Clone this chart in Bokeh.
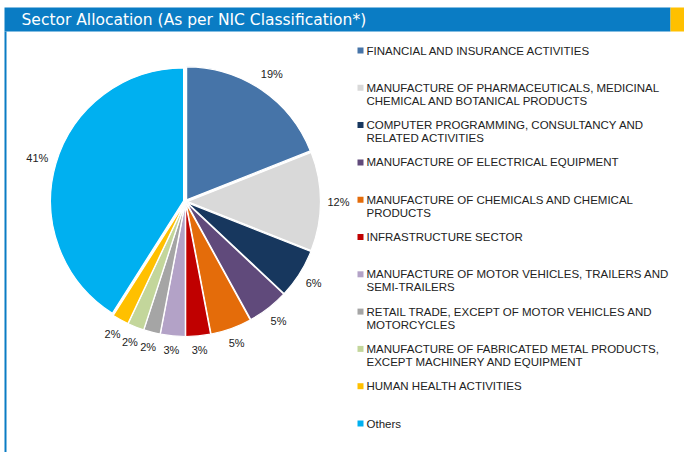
import numpy as np
from bokeh.plotting import figure
from bokeh.models import Range1d
from bokeh.core.properties import value
from bokeh.embed import file_html
from bokeh.resources import INLINE

title = "Sector Allocation (As per NIC Classification*)"
sectors = [
    "FINANCIAL AND INSURANCE ACTIVITIES",
    "MANUFACTURE OF PHARMACEUTICALS, MEDICINAL\nCHEMICAL AND BOTANICAL PRODUCTS",
    "COMPUTER PROGRAMMING, CONSULTANCY AND\nRELATED ACTIVITIES",
    "MANUFACTURE OF ELECTRICAL EQUIPMENT",
    "MANUFACTURE OF CHEMICALS AND CHEMICAL\nPRODUCTS",
    "INFRASTRUCTURE SECTOR",
    "MANUFACTURE OF MOTOR VEHICLES, TRAILERS AND\nSEMI-TRAILERS",
    "RETAIL TRADE, EXCEPT OF MOTOR VEHICLES AND\nMOTORCYCLES",
    "MANUFACTURE OF FABRICATED METAL PRODUCTS,\nEXCEPT MACHINERY AND EQUIPMENT",
    "HUMAN HEALTH ACTIVITIES",
    "Others",
]
shares = [19, 12, 6, 5, 5, 3, 3, 2, 2, 2, 41]
colors = ["#4674A8", "#D9D9D9", "#17375E", "#604A7B", "#E46C0A", "#C00000",
          "#B3A2C7", "#A5A5A5", "#C3D69B", "#FFC000", "#00B0F0"]

W, H = 684, 452

p = figure(width=W, height=H, output_backend="svg", toolbar_location=None,
           x_range=Range1d(0, W), y_range=Range1d(0, H),
           min_border=0, outline_line_color=None)
p.axis.visible = False
p.grid.visible = False
p.background_fill_color = "white"

def Y(py):
    return H - py

# header
p.quad(left=[4], right=[670], top=[Y(7)], bottom=[Y(31)], fill_color="#0A7CC4", line_color=None)
p.quad(left=[670], right=[684], top=[Y(7)], bottom=[Y(31)], fill_color="#FFC000", line_color=None)
p.quad(left=[4], right=[6], top=[Y(31)], bottom=[Y(452)], fill_color="#0A7CC4", line_color=None)
p.text(x=[21], y=[Y(19)], text=[title], text_color="white",
       text_font=value("DejaVu Sans"), text_font_size="15.5px",
       text_baseline="middle", text_align="left")

# pie
cx, cy, R = 185, Y(201), 133
vals = np.array(shares, dtype=float)
frac = vals / vals.sum()
cum = np.concatenate([[0], np.cumsum(frac)])
start = np.pi / 2 - cum[1:] * 2 * np.pi
end = np.pi / 2 - cum[:-1] * 2 * np.pi
mid = (start + end) / 2
expl = 2.0
xs = cx + expl * np.cos(mid)
ys = cy + expl * np.sin(mid)
p.wedge(x=xs, y=ys, radius=R, start_angle=start, end_angle=end,
        fill_color=colors, line_color="white", line_width=1.2)

# data labels
lab = [f"{v:.0f}%" for v in shares]
wlab = np.array([7 * len(s) - 1 for s in lab], dtype=float)
ext = np.abs(np.cos(mid)) * wlab / 2 + np.abs(np.sin(mid)) * 6
rl = R + 10 + ext
p.text(x=cx + rl * np.cos(mid), y=cy + rl * np.sin(mid), text=lab,
       text_color="#222222", text_font=value("Liberation Sans"), text_font_size="11px",
       text_align="center", text_baseline="middle")

# legend
step = 37.3
lx, ly0 = 366, 50
tx, ty, tt = [], [], []
sqx, sqy = [], []
for i, s in enumerate(sectors):
    yy = ly0 + i * step
    sqx.append(lx - 6)
    sqy.append(Y(yy))
    for j, line in enumerate(s.split("\n")):
        tx.append(lx)
        ty.append(Y(yy + j * 13))
        tt.append(line)
p.rect(x=sqx, y=sqy, width=6, height=6, fill_color=colors, line_color=None)
p.text(x=tx, y=ty, text=tt, text_color="#222222", text_font=value("Liberation Sans"),
       text_font_size="11.5px", text_align="left", text_baseline="middle")

open("out.html", "w").write(file_html(p, INLINE))
